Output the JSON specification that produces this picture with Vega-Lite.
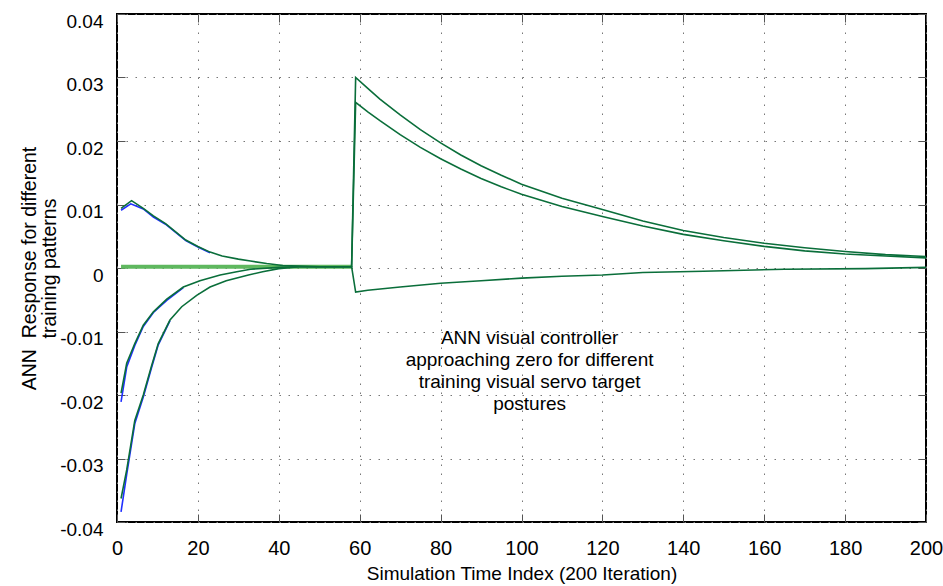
{
  "$schema": "https://vega.github.io/schema/vega-lite/v6.json",
  "width": 809,
  "height": 508,
  "autosize": "none",
  "padding": {"left": 117, "top": 14, "right": 17, "bottom": 64},
  "background": "white",
  "config": {
    "view": {"stroke": "black", "strokeWidth": 2},
    "font": "Liberation Sans"
  },
  "resolve": {"axis": {"x": "independent", "y": "independent"}},
  "datasets": {
    "lines": [
      {"s": "Ab", "c": "blue", "x": 1, "y": 0.0091},
      {"s": "Ab", "c": "blue", "x": 3.4, "y": 0.0101},
      {"s": "Ab", "c": "blue", "x": 6.5, "y": 0.0093},
      {"s": "Ab", "c": "blue", "x": 9, "y": 0.0080},
      {"s": "Ab", "c": "blue", "x": 12, "y": 0.0069},
      {"s": "Ab", "c": "blue", "x": 14.5, "y": 0.0056},
      {"s": "Ab", "c": "blue", "x": 17, "y": 0.0043},
      {"s": "Ab", "c": "blue", "x": 20, "y": 0.0033},
      {"s": "Ab", "c": "blue", "x": 23, "y": 0.0024},
      {"s": "Bb", "c": "blue", "x": 1, "y": -0.0211},
      {"s": "Bb", "c": "blue", "x": 2.4, "y": -0.0156},
      {"s": "Bb", "c": "blue", "x": 4.4, "y": -0.0122},
      {"s": "Bb", "c": "blue", "x": 6.5, "y": -0.0092},
      {"s": "Bb", "c": "blue", "x": 9, "y": -0.0070},
      {"s": "Bb", "c": "blue", "x": 12.3, "y": -0.0051},
      {"s": "Bb", "c": "blue", "x": 16.4, "y": -0.0031},
      {"s": "Cb", "c": "blue", "x": 1, "y": -0.0384},
      {"s": "Cb", "c": "blue", "x": 2.4, "y": -0.0325},
      {"s": "Cb", "c": "blue", "x": 4.4, "y": -0.0245},
      {"s": "Cb", "c": "blue", "x": 6.5, "y": -0.0203},
      {"s": "Cb", "c": "blue", "x": 8.5, "y": -0.0158},
      {"s": "Cb", "c": "blue", "x": 10.2, "y": -0.0121},
      {"s": "Cb", "c": "blue", "x": 13.1, "y": -0.0083},

      {"s": "A", "c": "green", "x": 1, "y": 0.0094},
      {"s": "A", "c": "green", "x": 3.6, "y": 0.0106},
      {"s": "A", "c": "green", "x": 6.5, "y": 0.0094},
      {"s": "A", "c": "green", "x": 9, "y": 0.0082},
      {"s": "A", "c": "green", "x": 12, "y": 0.0070},
      {"s": "A", "c": "green", "x": 14.5, "y": 0.0057},
      {"s": "A", "c": "green", "x": 17, "y": 0.0044},
      {"s": "A", "c": "green", "x": 20, "y": 0.0034},
      {"s": "A", "c": "green", "x": 23, "y": 0.0025},
      {"s": "A", "c": "green", "x": 26, "y": 0.0019},
      {"s": "A", "c": "green", "x": 30, "y": 0.0014},
      {"s": "A", "c": "green", "x": 33, "y": 0.0011},
      {"s": "A", "c": "green", "x": 37, "y": 0.0007},
      {"s": "A", "c": "green", "x": 41, "y": 0.0004},
      {"s": "A", "c": "green", "x": 45, "y": 0.0003},
      {"s": "A", "c": "green", "x": 50, "y": 0.0002},
      {"s": "A", "c": "green", "x": 58, "y": 0.0002},
      {"s": "A", "c": "green", "x": 59, "y": 0.0300},
      {"s": "A", "c": "green", "x": 62, "y": 0.0283},
      {"s": "A", "c": "green", "x": 65, "y": 0.0266},
      {"s": "A", "c": "green", "x": 70, "y": 0.0241},
      {"s": "A", "c": "green", "x": 75, "y": 0.0218},
      {"s": "A", "c": "green", "x": 80, "y": 0.0197},
      {"s": "A", "c": "green", "x": 85, "y": 0.0178},
      {"s": "A", "c": "green", "x": 90, "y": 0.0161},
      {"s": "A", "c": "green", "x": 95, "y": 0.0146},
      {"s": "A", "c": "green", "x": 100, "y": 0.0132},
      {"s": "A", "c": "green", "x": 110, "y": 0.0110},
      {"s": "A", "c": "green", "x": 120, "y": 0.0092},
      {"s": "A", "c": "green", "x": 130, "y": 0.0074},
      {"s": "A", "c": "green", "x": 140, "y": 0.0059},
      {"s": "A", "c": "green", "x": 150, "y": 0.0048},
      {"s": "A", "c": "green", "x": 160, "y": 0.0039},
      {"s": "A", "c": "green", "x": 170, "y": 0.0032},
      {"s": "A", "c": "green", "x": 180, "y": 0.0026},
      {"s": "A", "c": "green", "x": 190, "y": 0.0021},
      {"s": "A", "c": "green", "x": 200, "y": 0.0018},

      {"s": "B", "c": "green", "x": 1, "y": -0.0197},
      {"s": "B", "c": "green", "x": 2.4, "y": -0.0150},
      {"s": "B", "c": "green", "x": 4.4, "y": -0.0119},
      {"s": "B", "c": "green", "x": 6.5, "y": -0.0090},
      {"s": "B", "c": "green", "x": 9, "y": -0.0069},
      {"s": "B", "c": "green", "x": 12.3, "y": -0.0049},
      {"s": "B", "c": "green", "x": 16.4, "y": -0.0030},
      {"s": "B", "c": "green", "x": 20.5, "y": -0.0020},
      {"s": "B", "c": "green", "x": 25.5, "y": -0.0011},
      {"s": "B", "c": "green", "x": 29.6, "y": -0.0006},
      {"s": "B", "c": "green", "x": 33, "y": -0.0002},
      {"s": "B", "c": "green", "x": 40, "y": 0.0001},
      {"s": "B", "c": "green", "x": 45, "y": 0.0002},
      {"s": "B", "c": "green", "x": 58, "y": 0.0002},
      {"s": "B", "c": "green", "x": 59, "y": 0.0261},
      {"s": "B", "c": "green", "x": 62, "y": 0.0246},
      {"s": "B", "c": "green", "x": 65, "y": 0.0232},
      {"s": "B", "c": "green", "x": 70, "y": 0.0210},
      {"s": "B", "c": "green", "x": 75, "y": 0.0190},
      {"s": "B", "c": "green", "x": 80, "y": 0.0172},
      {"s": "B", "c": "green", "x": 85, "y": 0.0156},
      {"s": "B", "c": "green", "x": 90, "y": 0.0141},
      {"s": "B", "c": "green", "x": 95, "y": 0.0128},
      {"s": "B", "c": "green", "x": 100, "y": 0.0116},
      {"s": "B", "c": "green", "x": 110, "y": 0.0097},
      {"s": "B", "c": "green", "x": 120, "y": 0.0081},
      {"s": "B", "c": "green", "x": 130, "y": 0.0066},
      {"s": "B", "c": "green", "x": 140, "y": 0.0053},
      {"s": "B", "c": "green", "x": 150, "y": 0.0043},
      {"s": "B", "c": "green", "x": 160, "y": 0.0034},
      {"s": "B", "c": "green", "x": 170, "y": 0.0027},
      {"s": "B", "c": "green", "x": 180, "y": 0.0022},
      {"s": "B", "c": "green", "x": 190, "y": 0.0019},
      {"s": "B", "c": "green", "x": 200, "y": 0.0016},

      {"s": "C", "c": "green", "x": 1, "y": -0.0363},
      {"s": "C", "c": "green", "x": 2.4, "y": -0.0318},
      {"s": "C", "c": "green", "x": 4.4, "y": -0.0240},
      {"s": "C", "c": "green", "x": 6.5, "y": -0.0200},
      {"s": "C", "c": "green", "x": 8.5, "y": -0.0155},
      {"s": "C", "c": "green", "x": 10.2, "y": -0.0119},
      {"s": "C", "c": "green", "x": 13.1, "y": -0.0082},
      {"s": "C", "c": "green", "x": 16, "y": -0.0061},
      {"s": "C", "c": "green", "x": 19.7, "y": -0.0043},
      {"s": "C", "c": "green", "x": 23, "y": -0.0030},
      {"s": "C", "c": "green", "x": 27, "y": -0.0020},
      {"s": "C", "c": "green", "x": 32.5, "y": -0.0011},
      {"s": "C", "c": "green", "x": 36, "y": -0.0006},
      {"s": "C", "c": "green", "x": 40, "y": -0.0001},
      {"s": "C", "c": "green", "x": 45, "y": 0.0002},
      {"s": "C", "c": "green", "x": 58, "y": 0.0002},
      {"s": "C", "c": "green", "x": 59, "y": -0.0038},
      {"s": "C", "c": "green", "x": 62, "y": -0.0035},
      {"s": "C", "c": "green", "x": 70, "y": -0.0030},
      {"s": "C", "c": "green", "x": 80, "y": -0.0024},
      {"s": "C", "c": "green", "x": 90, "y": -0.0020},
      {"s": "C", "c": "green", "x": 100, "y": -0.0016},
      {"s": "C", "c": "green", "x": 110, "y": -0.0013},
      {"s": "C", "c": "green", "x": 120, "y": -0.0011},
      {"s": "C", "c": "green", "x": 130, "y": -0.0007},
      {"s": "C", "c": "green", "x": 145, "y": -0.0005},
      {"s": "C", "c": "green", "x": 165, "y": -0.0002},
      {"s": "C", "c": "green", "x": 185, "y": -0.0001},
      {"s": "C", "c": "green", "x": 200, "y": 0.0001}
    ],
    "flat": [
      {"x": 1, "y": 0.0002},
      {"x": 58, "y": 0.0002}
    ],
    "note": [
      {"x": 102, "y": -0.0105, "text": "ANN visual controller\napproaching zero for different\ntraining visual servo target\npostures"}
    ]
  },
  "layer": [
    {
      "data": {"name": "flat"},
      "mark": {"type": "line", "color": "#5fb85f", "strokeWidth": 4, "clip": true},
      "encoding": {
        "x": {
          "field": "x", "type": "quantitative",
          "scale": {"domain": [0, 200], "nice": false, "zero": false},
          "axis": {
            "orient": "bottom",
            "values": [0, 20, 40, 60, 80, 100, 120, 140, 160, 180, 200],
            "title": "Simulation Time Index (200 Iteration)",
            "titleFont": "Liberation Sans",
            "titleFontSize": 19,
            "titleFontWeight": "normal",
            "titleColor": "black",
            "titlePadding": 6,
            "labelFont": "Liberation Sans",
            "labelFontSize": 20,
            "labelColor": "black",
            "labelPadding": 24,
            "labelFlush": false,
            "domain": false,
            "ticks": true,
            "tickSize": -8,
            "tickColor": "#555",
            "grid": true,
            "gridColor": "#777",
            "gridDash": [1.5, 7.5],
            "gridWidth": 1
          }
        },
        "y": {
          "field": "y", "type": "quantitative",
          "scale": {"domain": [-0.04, 0.04], "nice": false, "zero": false},
          "axis": {
            "orient": "left",
            "values": [-0.04, -0.03, -0.02, -0.01, 0, 0.01, 0.02, 0.03, 0.04],
            "labelExpr": "'' + datum.value",
            "title": ["ANN\u00a0\u00a0Response for different", "\u00a0\u00a0\u00a0\u00a0\u00a0\u00a0\u00a0\u00a0\u00a0\u00a0\u00a0\u00a0\u00a0\u00a0\u00a0\u00a0\u00a0\u00a0\u00a0\u00a0\u00a0\u00a0\u00a0\u00a0\u00a0\u00a0\u00a0\u00a0\u00a0\u00a0\u00a0\u00a0\u00a0\u00a0\u00a0\u00a0\u00a0\u00a0training patterns"],
            "titleFont": "Liberation Sans",
            "titleFontSize": 19.5,
            "titleFontWeight": "normal",
            "titleColor": "black",
            "titlePadding": 0,
            "titleLineHeight": 20,
            "labelFont": "Liberation Sans",
            "labelFontSize": 19,
            "labelColor": "black",
            "labelPadding": 22,
            "labelOffset": 7,
            "labelFlush": false,
            "domain": false,
            "ticks": true,
            "tickSize": -8,
            "tickColor": "#555",
            "grid": true,
            "gridColor": "#777",
            "gridDash": [1.5, 7.5],
            "gridWidth": 1
          }
        }
      }
    },
    {
      "data": {"name": "lines"},
      "mark": {"type": "line", "strokeWidth": 1.6, "clip": true},
      "encoding": {
        "x": {"field": "x", "type": "quantitative", "axis": {"orient": "top", "values": [0, 20, 40, 60, 80, 100, 120, 140, 160, 180, 200], "labels": false, "title": null, "domain": false, "grid": false, "ticks": true, "tickSize": -8, "tickColor": "#555"}},
        "y": {"field": "y", "type": "quantitative", "axis": {"orient": "right", "values": [-0.04, -0.03, -0.02, -0.01, 0, 0.01, 0.02, 0.03, 0.04], "labels": false, "title": null, "domain": false, "grid": false, "ticks": true, "tickSize": -8, "tickColor": "#555"}},
        "detail": {"field": "s"},
        "color": {
          "field": "c", "type": "nominal",
          "scale": {"domain": ["blue", "green"], "range": ["#1f2fff", "#0a6e3a"]},
          "legend": null
        },
        "order": {"field": "x", "type": "quantitative"}
      }
    },
    {
      "data": {"name": "note"},
      "mark": {"type": "text", "font": "Liberation Sans", "fontSize": 19, "lineBreak": "\n", "lineHeight": 22, "align": "center", "baseline": "middle", "color": "black", "dy": 3},
      "encoding": {
        "x": {"field": "x", "type": "quantitative", "axis": null},
        "y": {"field": "y", "type": "quantitative", "axis": null},
        "text": {"field": "text"}
      }
    }
  ]
}
